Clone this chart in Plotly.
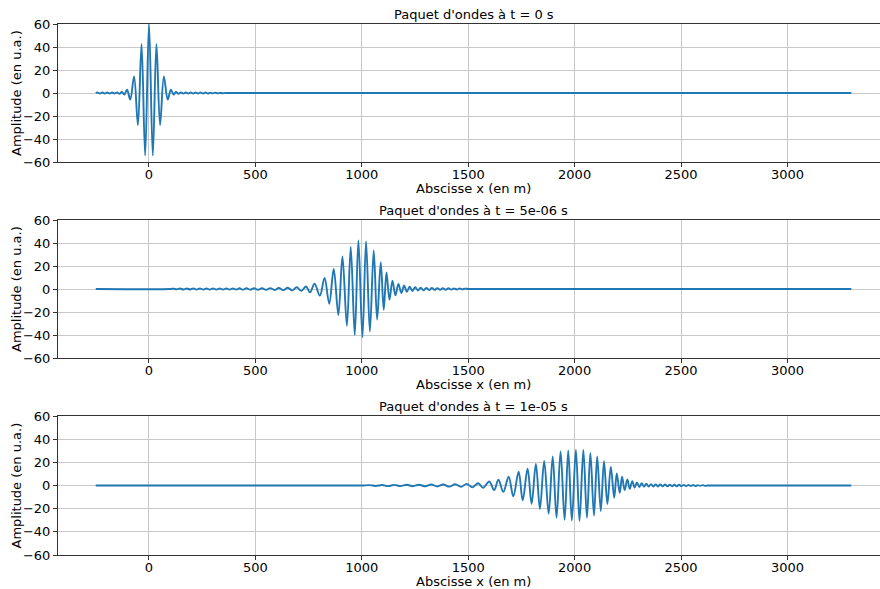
import plotly.graph_objects as go
from plotly.subplots import make_subplots

# ---- data (extrema of the oscillations) ----
x_t0 = [-250, -242, -231, -219, -208, -196, -185, -173, -162, -150,
        -139, -127, -116, -103, -88, -70, -52, -35, -18, 0,
        18, 35, 52, 70, 88, 103, 116, 127, 139, 150,
        162, 173, 185, 196, 208, 219, 231, 242, 254, 265,
        277, 288, 300, 311, 323, 334, 346, 360, 400, 3300]
y_t0 = [0, 0.5, -0.5, 0.5, -0.5, 0.5, -0.5, 0.5, -0.5, 0.5,
        -0.7, 0.9, -1.4, 2.9, -5.8, 14.4, -27.9, 42.6, -54.4, 60,
        -54.4, 42.6, -27.9, 14.4, -5.8, 2.9, -1.4, 0.9, -0.7, 0.5,
        -0.5, 0.5, -0.5, 0.5, -0.5, 0.4, -0.4, 0.4, -0.4, 0.4,
        -0.4, 0.3, -0.3, 0.3, -0.3, 0.2, -0.2, 0, 0, 0]

x_t1 = [-250, 100, 115, 131, 146, 162, 177, 193, 208, 224,
        239, 255, 270, 286, 301, 317, 332, 348, 363, 379,
        394, 410, 425, 441, 458, 476, 494, 512, 531, 550,
        570, 590, 610, 631, 652, 673, 694, 716, 738, 757,
        778, 803, 825, 847, 868, 890, 909, 930, 948, 967,
        984, 1003, 1020, 1038, 1056, 1072, 1089, 1103, 1116, 1130,
        1144, 1158, 1172, 1186, 1199, 1212, 1225, 1238, 1251, 1264,
        1277, 1290, 1303, 1316, 1329, 1342, 1355, 1368, 1381, 1394,
        1407, 1420, 1433, 1446, 1459, 1472, 1485, 1500, 1540, 3300]
y_t1 = [0, 0, 0.3, -0.3, 0.4, -0.4, 0.4, -0.4, 0.5, -0.5,
        0.5, -0.5, 0.5, -0.5, 0.5, -0.5, 0.5, -0.5, 0.5, -0.5,
        0.5, -0.5, 0.6, -0.6, 0.6, -0.6, 0.7, -0.7, 0.7, -0.8,
        0.8, -0.9, 0.9, -1.0, 1.1, -1.2, 1.5, -1.6, 2.2, -2.9,
        4.6, -5.8, 9.6, -12.8, 17.4, -22.6, 28.4, -32, 36.5, -40,
        42.3, -42, 41.5, -37, 33.6, -26.7, 23.2, -18, 14.5, -9.3,
        7.3, -5.5, 4.5, -3.5, 3.0, -2.4, 2.0, -1.7, 1.5, -1.3,
        1.2, -1.1, 1.0, -0.9, 0.9, -0.8, 0.8, -0.7, 0.7, -0.6,
        0.6, -0.5, 0.5, -0.4, 0.4, -0.3, 0.3, 0, 0, 0]

x_t2 = [-250, 990, 1005, 1037, 1066, 1095, 1124, 1153, 1182, 1211,
        1240, 1269, 1298, 1327, 1355, 1383, 1411, 1439, 1466, 1493,
        1520, 1547, 1570, 1599, 1622, 1642, 1665, 1690, 1712, 1737,
        1756, 1779, 1798, 1818, 1837, 1857, 1878, 1897, 1915, 1934,
        1953, 1970, 1987, 2006, 2023, 2041, 2058, 2074, 2091, 2106,
        2123, 2138, 2154, 2170, 2186, 2198, 2212, 2223, 2235, 2248,
        2259, 2271, 2282, 2293, 2304, 2315, 2326, 2337, 2348, 2359,
        2370, 2381, 2392, 2403, 2414, 2425, 2436, 2447, 2458, 2469,
        2480, 2491, 2502, 2513, 2524, 2535, 2546, 2557, 2568, 2579,
        2590, 2601, 2612, 2625, 2660, 3300]
y_t2 = [0, 0, 0, 0.3, -0.4, 0.4, -0.5, 0.5, -0.5, 0.6,
        -0.6, 0.7, -0.7, 0.8, -0.8, 0.9, -1.0, 1.1, -1.2, 1.4,
        -1.6, 2.0, -2.0, 3.5, -4.0, 5.0, -5.5, 7.5, -9.3, 11.9,
        -12.8, 14.5, -15.7, 18.6, -20.3, 21.2, -24.4, 25.0, -27.8, 29.3,
        -29.6, 30.2, -30.2, 30.7, -30.7, 30.7, -27.8, 28.0, -26.0, 25.0,
        -22.0, 21.0, -16.0, 16.0, -10.5, 10.4, -6.4, 7.5, -4.0, 5.2,
        -2.9, 3.8, -1.7, 2.6, -1.3, 2.0, -1.0, 1.5, -0.9, 1.2,
        -0.8, 1.0, -0.8, 0.9, -0.7, 0.8, -0.7, 0.7, -0.6, 0.6,
        -0.6, 0.6, -0.5, 0.5, -0.5, 0.5, -0.4, 0.4, -0.4, 0.3,
        -0.3, 0.3, -0.3, 0, 0, 0]

titles = ["Paquet d'ondes à t = 0 s", "Paquet d'ondes à t = 5e-06 s", "Paquet d'ondes à t = 1e-05 s"]
x_ticks = [0, 500, 1000, 1500, 2000, 2500, 3000]
y_ticks = [-60, -40, -20, 0, 20, 40, 60]
x_label = "Abscisse x (en m)"
y_label = "Amplitude (en u.a.)"

series = [(x_t0, y_t0), (x_t1, y_t1), (x_t2, y_t2)]

W, H = 880, 589
ML, MR, MT, MB = 58, 0, 24, 34
PW, PH = W - ML - MR, H - MT - MB
panels_px = [(24, 162), (220, 358), (416, 555)]  # top, bottom pixel rows

def py2paper(py):
    return (H - MB - py) / PH

def px2paper(px):
    return (px - ML) / PW

fig = make_subplots(rows=3, cols=1)
font = dict(family="DejaVu Sans, sans-serif", size=13, color="black")

annotations = []
for i, (xs, ys) in enumerate(series):
    fig.add_trace(go.Scatter(x=xs, y=ys, mode="lines",
                             line=dict(color="#1f77b4", width=1.9, shape="spline", smoothing=1),
                             showlegend=False), row=i + 1, col=1)
    top, bot = panels_px[i]
    dom = [py2paper(bot), py2paper(top)]
    sfx = "" if i == 0 else str(i + 1)
    fig.layout["xaxis" + sfx].update(
        domain=[0, 1], range=[-427.5, 3435], tickvals=x_ticks,
        showgrid=True, gridcolor="#c8c8c8", gridwidth=1, zeroline=False,
        showline=True, linecolor="#333333", linewidth=1, mirror=True,
        ticks="outside", ticklen=4, tickwidth=1, tickcolor="#333333",
        ticklabelstandoff=-4, tickfont=font)
    fig.layout["yaxis" + sfx].update(
        domain=dom, range=[-60, 60], tickvals=y_ticks,
        showgrid=True, gridcolor="#c8c8c8", gridwidth=1, zeroline=False,
        showline=True, linecolor="#333333", linewidth=1, mirror=False,
        ticks="outside", ticklen=4, tickwidth=1, tickcolor="#333333",
        tickfont=font)
    annotations.append(dict(text=titles[i], x=px2paper(473.5), y=py2paper(top - 10),
                            xref="paper", yref="paper", showarrow=False,
                            xanchor="center", yanchor="middle", font=font))
    annotations.append(dict(text=x_label, x=px2paper(473.5), y=py2paper(bot + 26.5),
                            xref="paper", yref="paper", showarrow=False,
                            xanchor="center", yanchor="middle", font=font))
    annotations.append(dict(text=y_label, x=px2paper(16), y=py2paper((top + bot) / 2),
                            xref="paper", yref="paper", showarrow=False, textangle=-90,
                            xanchor="center", yanchor="middle", font=font))

fig.update_layout(width=W, height=H, margin=dict(l=ML, r=MR, t=MT, b=MB),
                  plot_bgcolor="white", paper_bgcolor="white",
                  annotations=annotations, font=font)

fig.write_html("out.html")
